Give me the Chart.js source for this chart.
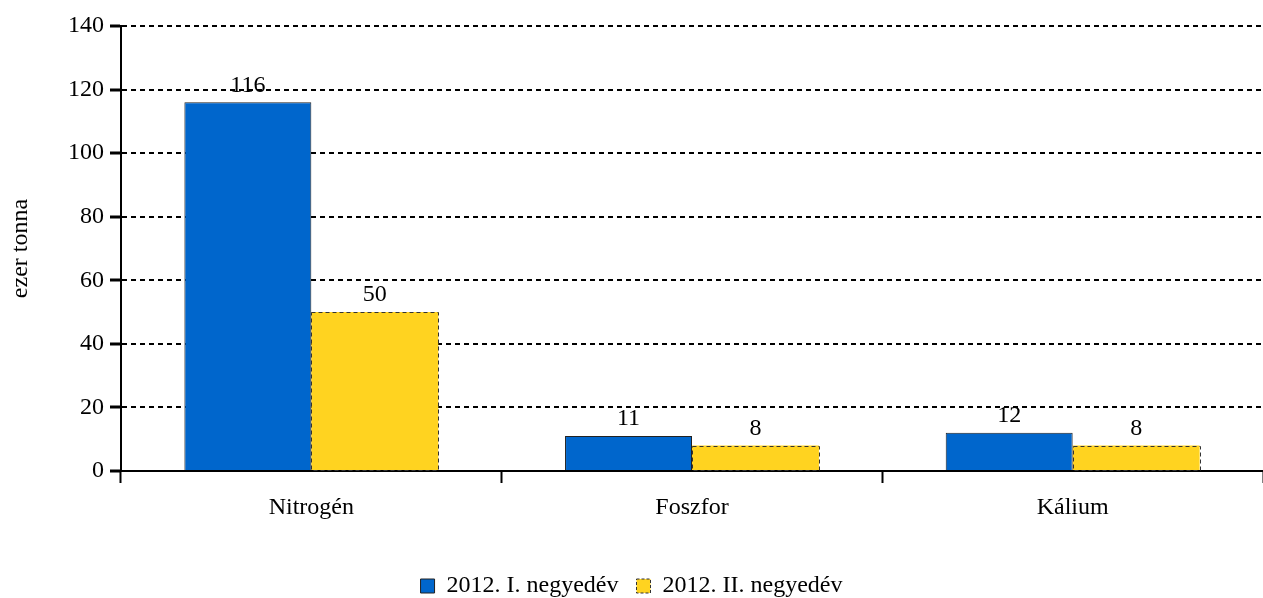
<!DOCTYPE html>
<html>
<head>
<meta charset="utf-8">
<script src="https://cdn.jsdelivr.net/npm/chart.js@4"></script>
<style>
	body { margin: 0; background: #fff; }
	#wrap { width: 1263px; height: 598px; position: relative; }
</style>
</head>
<body>
<div id="wrap"><canvas id="bar-chart"></canvas></div>
<script>
// adatok
const kategoriak = ['Nitrogén', 'Foszfor', 'Kálium'];
const negyedev1 = [116, 11, 12];
const negyedev2 = [50, 8, 8];
const sorozatNevek = ['2012. I. negyedév', '2012. II. negyedév'];
const yTicks = [0, 20, 40, 60, 80, 100, 120, 140];

const betu = 'Liberation Serif';
const meret = 24;

// ertekek a oszlopok folott + szaggatott keret a sarga oszlopokra
const cimkek = {
	id: 'cimkek',
	afterDatasetsDraw(chart){
		let ctx = chart.ctx;
		ctx.save();
		// sarga oszlop keret
		let meta2 = chart.getDatasetMeta(1);
		ctx.strokeStyle = '#333';
		ctx.lineWidth = 1;
		ctx.setLineDash([4, 3]);
		meta2.data.forEach(function(bar){
			let x0 = bar.x - bar.width/2, x1 = bar.x + bar.width/2;
			ctx.strokeRect(Math.round(x0)+0.5, Math.round(bar.y)+0.5, Math.round(x1-x0), Math.round(bar.base-bar.y));
		});
		ctx.setLineDash([]);
		ctx.fillStyle = '#000';
		ctx.font = meret + 'px "' + betu + '"';
		ctx.textAlign = 'center';
		ctx.textBaseline = 'bottom';
		chart.data.datasets.forEach(function(ds, i){
			chart.getDatasetMeta(i).data.forEach(function(bar, j){
				ctx.fillText(ds.data[j], bar.x, bar.y - 5);
			});
		});
		ctx.restore();
	}
};

new Chart(document.getElementById('bar-chart'), {
	type: 'bar',
	data: {
		labels: kategoriak,
		datasets: [{
			label: sorozatNevek[0],
			data: negyedev1,
			backgroundColor: '#0066CC',
			borderColor: '#222',
			borderWidth: 1,
			categoryPercentage: 0.667,
			barPercentage: 1
		},{
			label: sorozatNevek[1],
			data: negyedev2,
			backgroundColor: '#FFD320',
			borderColor: '#333',
			borderWidth: 0,
			categoryPercentage: 0.667,
			barPercentage: 1
		}]
	},
	options: {
		responsive: true,
		maintainAspectRatio: false,
		animation: false,
		layout: { padding: { top: 26, right: 0, left: 0, bottom: -10 } },
		plugins: {
			tooltip: { enabled: false },
			legend: {
				position: 'bottom',
				labels: {
					font: { family: betu, size: meret },
					color: '#000',
					boxWidth: 14,
					boxHeight: 14,
					padding: 18,
					generateLabels(chart){
						return chart.data.datasets.map(function(ds, i){
							return {
								text: ds.label,
								fillStyle: ds.backgroundColor,
								strokeStyle: i == 0 ? '#222' : '#333',
								lineWidth: 1,
								lineDash: i == 0 ? [] : [3, 2],
								datasetIndex: i,
								fontColor: '#000'
							};
						});
					}
				}
			}
		},
		scales: {
			x: {
				grid: {
					offset: true,
					drawOnChartArea: false,
					drawTicks: true,
					tickLength: 12,
					tickColor: '#000',
					tickWidth: 2
				},
				border: { display: true, color: '#000', width: 2 },
				ticks: {
					font: { family: betu, size: meret },
					color: '#000',
					padding: 10
				},
				afterFit(scale){ scale.height = 85; }
			},
			y: {
				min: 0,
				max: 140,
				afterBuildTicks(scale){ scale.ticks = yTicks.map(v => ({ value: v })); },
				grid: {
					color: '#000',
					lineWidth: 2,
					tickBorderDash: [1, 0],
					tickLength: 11,
					tickColor: '#000',
					tickWidth: 3
				},
				border: { display: true, color: '#000', width: 2, dash: [5, 4] },
				ticks: {
					font: { family: betu, size: meret },
					color: '#000',
					padding: 6
				},
				title: {
					display: true,
					text: 'ezer tonna',
					font: { family: betu, size: meret },
					color: '#000',
					padding: { top: 6, bottom: 0 }
				},
				afterFit(scale){ scale.width = 121; }
			}
		}
	},
	plugins: [cimkek]
});
</script>
</body>
</html>
